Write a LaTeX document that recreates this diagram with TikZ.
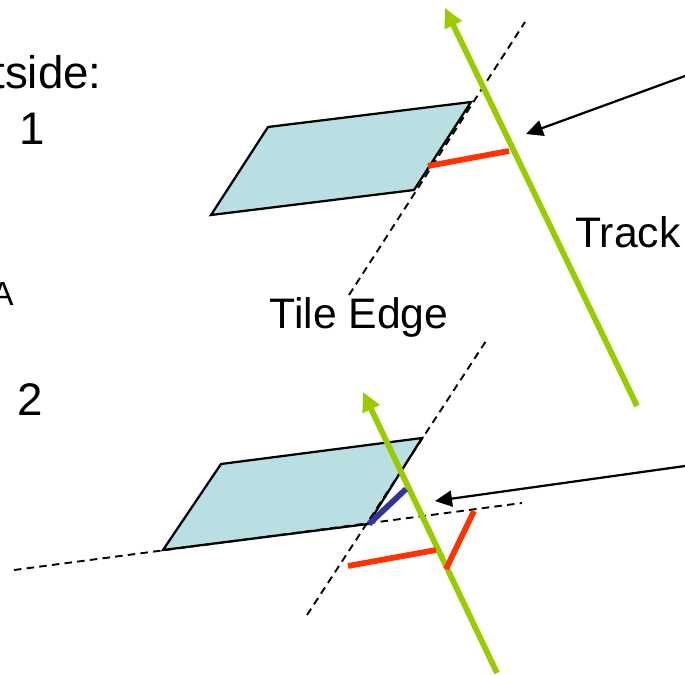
\documentclass[tikz,border=0pt]{standalone}
\usepackage{fontspec}
\setmainfont{Liberation Sans}
\usetikzlibrary{arrows.meta}
\definecolor{tilefill}{HTML}{B9DFE3}
\definecolor{trackgreen}{HTML}{99CC00}
\definecolor{distred}{HTML}{FF3300}
\definecolor{distblue}{HTML}{333399}
\begin{document}
\begin{tikzpicture}[x=0.2mm,y=-0.2mm,
  tile/.style={draw=black,line width=0.45mm,fill=tilefill,line join=miter},
  edgeline/.style={draw=black,line width=0.38mm,dash pattern=on 1.5mm off 1.05mm},
  track/.style={draw=trackgreen,line width=1.15mm,-{Triangle[length=3.8mm,width=3.6mm]}},
  dist/.style={draw=distred,line width=1.15mm},
  pointer/.style={draw=black,line width=0.45mm,-{Triangle[length=3.4mm,width=3.2mm]}},
  lbl/.style={font=\fontsize{24.3}{29}\selectfont,inner sep=0pt},
  lblside/.style={font=\fontsize{26}{31}\selectfont,inner sep=0pt},
  lblsmall/.style={font=\fontsize{19}{23}\selectfont,inner sep=0pt}]
\useasboundingbox (0,0) rectangle (685,675);

% upper tile
\coordinate (ua) at (268,127);
\coordinate (ub) at (471,102);
\coordinate (uc) at (414,190);
\coordinate (ud) at (211,215);
\filldraw[tile] (ua) -- (ub) -- (uc) -- (ud) -- cycle;

\coordinate (ue1) at (349,295);
\coordinate (ue2) at (525,22);
\draw[edgeline] (ue1) -- (ue2);

\coordinate (ut1) at (637,406);
\coordinate (ut2) at (445,8);
\draw[track] (ut1) -- (ut2);

\coordinate (ur1) at (428,166);
\coordinate (ur2) at (509,151);
\draw[dist] (ur1) -- (ur2);

\coordinate (up1) at (685,76);
\coordinate (up2) at (526,134);
\draw[pointer] (up1) -- (up2);

% lower tile
\coordinate (la) at (221,464);
\coordinate (lb) at (422,438);
\coordinate (lc) at (368,524);
\coordinate (ld) at (163,550);
\filldraw[tile] (la) -- (lb) -- (lc) -- (ld) -- cycle;

\coordinate (le1) at (307,615);
\coordinate (le2) at (486,341);
\draw[edgeline] (le1) -- (le2);
\coordinate (le3) at (14,570);
\coordinate (le4) at (522,503);
\draw[edgeline] (le3) -- (le4);

\coordinate (lt1) at (497,673);
\coordinate (lt2) at (363,392);
\draw[track] (lt1) -- (lt2);

\coordinate (lb1) at (369,524);
\coordinate (lb2) at (406,489);
\draw[draw=distblue,line width=1.15mm] (lb1) -- (lb2);

\coordinate (lr1) at (348,566);
\coordinate (lr2) at (436,550);
\coordinate (lr3) at (446,569);
\coordinate (lr4) at (474,511);
\draw[dist] (lr1) -- (lr2);
\draw[dist] (lr3) -- (lr4);

\coordinate (lp1) at (685,466);
\coordinate (lp2) at (435,501);
\draw[pointer] (lp1) -- (lp2);

% labels
\node[lblside,anchor=base east] (side) at (102,88) {tside:};
\node[lblside,anchor=base] (one) at (32,145) {1};
\node[lblsmall,anchor=base east] (aa) at (14,305) {A};
\node[lblside,anchor=base east] (two) at (43,415) {2};
\node[lbl,anchor=base] (tileedge) at (359,328) {Tile Edge};
\node[lbl,anchor=base west] (tracklbl) at (575,247) {Track};
\end{tikzpicture}
\end{document}
